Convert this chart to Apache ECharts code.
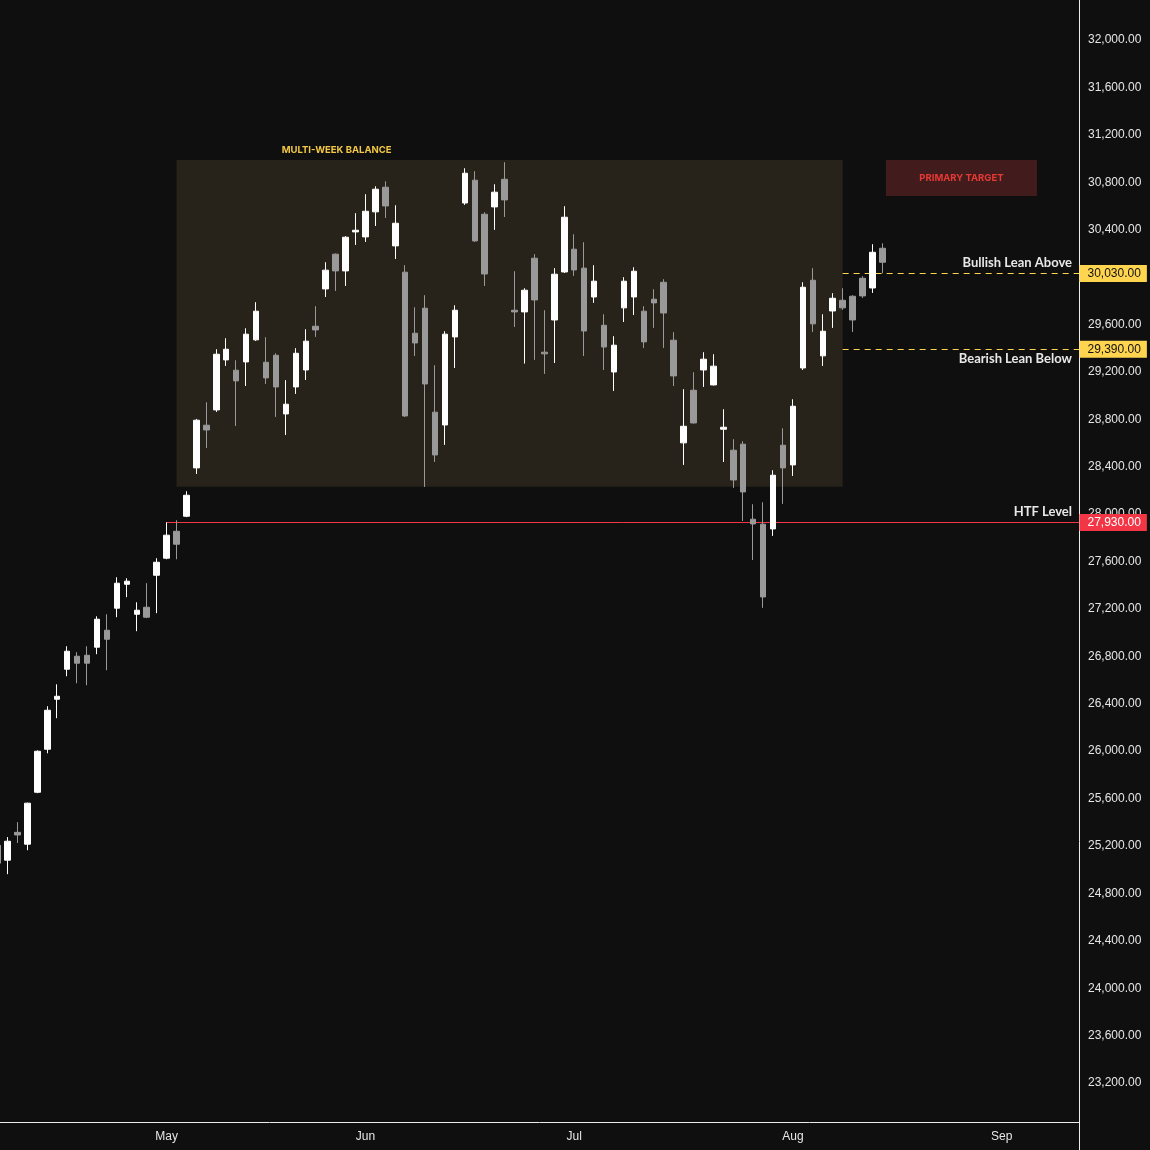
<!DOCTYPE html>
<html>
<head>
<meta charset="utf-8">
<script src="https://cdn.jsdelivr.net/npm/echarts@6/dist/echarts.min.js"></script>
<style>
  html, body { margin: 0; padding: 0; background: #0f0f0f; }
  #mainBox { width: 1150px; height: 1150px; }
</style>
</head>
<body>
<div id="mainBox"></div>
<script>
// daily candles (index 0 is the one cut by the left edge)
var opens  = [25205, 25080, 25315, 25215, 25653, 26016, 26438, 26691, 26801, 26809,
              26877, 27020, 27206, 27408, 27155, 27214, 27484, 27628, 27855, 27982,
              28390, 28750, 28879, 29301, 29214, 29284, 29470, 29281, 29340, 28845,
              29073, 29216, 29585, 29900, 30193, 30052, 30381, 30339, 30550, 30758,
              30263, 30041, 29526, 29737, 28860, 28752, 29495, 30625, 30817, 30530,
              30592, 30825, 29720, 29706, 30159, 29366, 29638, 30043, 30235, 30075,
              29832, 29593, 29199, 29740, 29832, 29712, 29813, 29956, 29467, 28601,
              29045, 29216, 29090, 28716, 28539, 28590, 27957, 27915, 27875, 28581,
              28415, 29233, 29973, 29335, 29714, 29804, 29838, 29990, 29908, 30243];
var closes = [25055, 25240, 25293, 25561, 25999, 26345, 26463, 26843, 26742, 26742,
              27113, 26944, 27417, 27434, 27189, 27130, 27594, 27822, 27746, 28159,
              28792, 28710, 29349, 29391, 29124, 29518, 29712, 29149, 29073, 28927,
              29357, 29459, 29554, 30058, 30052, 30336, 30395, 30555, 30741, 30600,
              30454, 28828, 29444, 29098, 28499, 29518, 29720, 30876, 30305, 30026,
              30716, 30651, 29706, 29889, 29807, 29352, 30024, 30505, 30060, 29545,
              29965, 29410, 29425, 29965, 30049, 29453, 29782, 29697, 29166, 28741,
              28769, 29307, 29248, 28733, 28288, 28187, 27917, 27301, 28328, 28390,
              28910, 29914, 29605, 29543, 29821, 29740, 29638, 29841, 30209, 30125];
var lows   = [24995, 24962, 25225, 25164, 25645, 25982, 26278, 26632, 26573, 26556,
              26818, 26683, 27130, 27299, 27012, 27122, 27164, 27619, 27619, 27974,
              28339, 28558, 28862, 29250, 28744, 29081, 29461, 29098, 28820, 28668,
              29014, 29132, 29495, 29832, 29883, 29925, 30271, 30296, 30431, 30499,
              30153, 28820, 29334, 28229, 28440, 28584, 29233, 30609, 30296, 29925,
              30398, 30507, 29579, 29270, 29301, 29183, 29275, 30035, 30010, 29334,
              29782, 29216, 29039, 29621, 29680, 29402, 29571, 29402, 29081, 28415,
              28765, 29073, 29085, 28440, 28221, 27942, 27613, 27209, 27816, 28086,
              28322, 29216, 29537, 29250, 29571, 29723, 29537, 29824, 29866, 30032];
var highs  = [25245, 25275, 25401, 25565, 26007, 26379, 26564, 26885, 26835, 26885,
              27138, 27155, 27467, 27459, 27256, 27417, 27628, 27931, 27948, 28193,
              28803, 28944, 29391, 29484, 29298, 29568, 29788, 29492, 29357, 29130,
              29400, 29560, 29754, 30125, 30200, 30345, 30539, 30699, 30766, 30808,
              30606, 30100, 29745, 29847, 29256, 29543, 29762, 30918, 30893, 30547,
              30783, 30969, 30049, 29906, 30193, 29720, 30075, 30598, 30361, 30294,
              30100, 29686, 29501, 29999, 30083, 29754, 29897, 29982, 29535, 29054,
              29197, 29366, 29349, 28885, 28632, 28615, 28083, 28100, 28370, 28724,
              28969, 29956, 30075, 29686, 29864, 29906, 29847, 30007, 30277, 30285];

// x-axis month labels sit on the first session of each month
var monthTicks = [17, 37, 58, 80, 101];
var monthNames = ['May', 'Jun', 'Jul', 'Aug', 'Sep'];

var priceTicks = [23200, 23600, 24000, 24400, 24800, 25200, 25600, 26000, 26400, 26800,
                  27200, 27600, 28000, 28400, 28800, 29200, 29600, 30000, 30400, 30800,
                  31200, 31600, 32000];

// levels drawn on the chart
var levelPrices = [30030, 29390, 27930];
var levelNames  = ['Bullish Lean Above', 'Bearish Lean Below', 'HTF Level'];
var levelFrom   = [85, 85, 17];

// zones: [fromIndex, toIndex, lowPrice, highPrice]
var balanceZone = [18, 85, 28231, 30988];
var targetZone  = [89.35, 104.54, 30684, 30988];

var xMin = 0.2457, xMax = 108.77;
var yMin = 22871, yMax = 32337.6;

function fmtPrice(v) {
    var parts = Number(v).toFixed(2).split('.');
    parts[0] = parts[0].replace(/\B(?=(\d{3})+(?!\d))/g, ',');
    return parts.join('.');
}

var candles = [];
for (var i = 0; i < opens.length; i++) {
    candles.push([i, opens[i], closes[i], lows[i], highs[i]]);
}

var tagColors  = ['#ffd54f', '#ffd54f', '#f23645'];
var tagText    = ['#111111', '#111111', '#ffffff'];
var lineTypes  = [[6, 5], [6, 5], 'solid'];
var textPos    = ['insideEndTop', 'insideEndBottom', 'insideEndTop'];
var textGap    = [[7, 4], [7, 3], [7, 4]];

var lineData = [];
var tagData = [];
levelPrices.forEach(function (p, n) {
    // level line with its name
    lineData.push([
        { coord: [levelFrom[n], p],
          lineStyle: { color: tagColors[n], width: 1, type: lineTypes[n], opacity: 1 },
          label: {
              show: true, position: textPos[n], distance: textGap[n],
              formatter: levelNames[n],
              color: '#e8e8e8', fontFamily: 'Lato', fontWeight: 'bold', fontSize: 13
          } },
        { coord: [xMax, p] }
    ]);
    // price tag on the axis
    tagData.push({
        coord: [xMax, p],
        symbol: 'rect', symbolSize: [1, 1],
        itemStyle: { color: 'rgba(0,0,0,0)' },
        label: {
            show: true, position: 'right', distance: 0,
            formatter: fmtPrice(p),
            backgroundColor: tagColors[n], color: tagText[n],
            fontFamily: 'Liberation Sans', fontSize: 12,
            padding: [3, 6, 2, 8]
        }
    });
});

var myChart = echarts.init(document.getElementById('mainBox'));

var option = {
    backgroundColor: '#0f0f0f',
    animation: false,
    grid: { left: 0, right: 71, top: 0, bottom: 28 },
    xAxis: {
        type: 'value',
        min: xMin,
        max: xMax,
        axisLine: { show: true, lineStyle: { color: '#ececec', width: 1 } },
        axisTick: { show: false },
        splitLine: { show: false },
        axisLabel: {
            customValues: monthTicks,
            formatter: function (v) { return monthNames[monthTicks.indexOf(v)] || ''; },
            color: '#e6e6e6', fontFamily: 'Liberation Sans', fontSize: 12, margin: 9
        }
    },
    yAxis: {
        type: 'value',
        position: 'right',
        min: yMin,
        max: yMax,
        axisLine: { show: true, lineStyle: { color: '#ececec', width: 1 } },
        axisTick: { show: false },
        splitLine: { show: false },
        axisLabel: {
            customValues: priceTicks,
            formatter: fmtPrice,
            color: '#e6e6e6', fontFamily: 'Liberation Sans', fontSize: 12, margin: 9
        }
    },
    graphic: [{
        type: 'line', silent: true,
        shape: { x1: 1079.5, y1: 1122, x2: 1079.5, y2: 1150 },
        style: { stroke: '#ececec', lineWidth: 1 }
    }],
    series: [{
        type: 'candlestick',
        barWidth: 6,
        data: candles,
        itemStyle: {
            color: '#ffffff', color0: '#999999',
            borderColor: '#ffffff', borderColor0: '#999999',
            borderWidth: 1
        },
        markArea: {
            silent: true,
            data: [
                [{ coord: [balanceZone[0], balanceZone[3]],
                   itemStyle: { color: '#27231a' },
                   label: {
                       show: true, position: 'top', distance: 5, offset: [-173, 0],
                       formatter: 'MULTI-WEEK BALANCE',
                       color: '#f2c744', fontFamily: 'Inter', fontWeight: 'bold', fontSize: 9.5
                   } },
                 { coord: [balanceZone[1], balanceZone[2]] }],
                [{ coord: [targetZone[0], targetZone[3]],
                   itemStyle: { color: '#421c1c' },
                   label: {
                       show: true, position: 'inside',
                       formatter: 'PRIMARY TARGET',
                       color: '#e53935', fontFamily: 'Inter', fontWeight: 'bold', fontSize: 9.5
                   } },
                 { coord: [targetZone[1], targetZone[2]] }]
            ]
        },
        markLine: {
            silent: true,
            symbol: ['none', 'none'],
            z: 1,
            data: lineData
        },
        markPoint: {
            silent: true,
            data: tagData
        }
    }]
};

myChart.setOption(option);
</script>
</body>
</html>
